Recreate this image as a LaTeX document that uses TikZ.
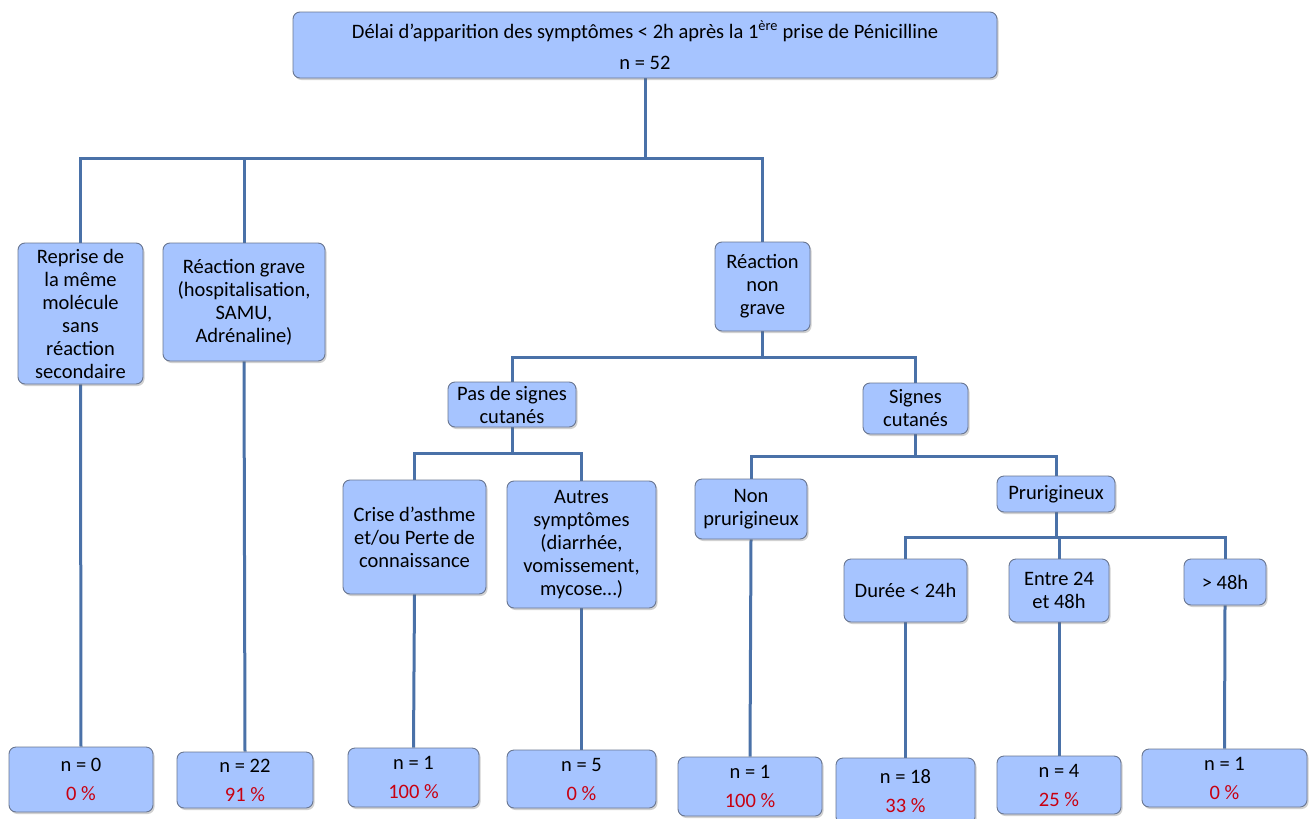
\documentclass[tikz,border=0pt]{standalone}
\usepackage{fontspec}
\setmainfont{Carlito}
\usepackage{tikz}
\usetikzlibrary{shadows}
\usetikzlibrary{backgrounds}

\definecolor{boxfill}{RGB}{166,196,255}
\definecolor{boxline}{RGB}{105,118,145}
\definecolor{linkblue}{RGB}{74,113,168}
\definecolor{pctred}{RGB}{200,0,16}
\newcommand{\pcent}[1]{{\color{pctred}#1}}

\tikzset{
  box/.style={draw=boxline, line width=0.9pt, fill=boxfill, rounded corners=7pt,
    inner sep=0pt, align=center, font=\fontsize{20.5}{23}\selectfont,
    drop shadow={shadow xshift=1.5pt, shadow yshift=-2pt, opacity=0.3, fill=black!60}},
  link/.style={draw=linkblue, line width=3pt}
}

\begin{document}
\begin{tikzpicture}[x=1pt, y=-1pt]
                \useasboundingbox (0,0) rectangle (1312,819);
                % top of the tree
                \node[box, minimum width=704, minimum height=66] (top) at (645,45)
                    {Délai d’apparition des symptômes < 2h après la 1\textsuperscript{ère} prise de Pénicilline\\[8pt] n = 52};
                % first level
                \node[box, minimum width=125, minimum height=141] (repr) at (80.5,313.5)
                    {Reprise de\\la même\\molécule\\sans\\réaction\\secondaire};
                \node[box, minimum width=162, minimum height=118] (grave) at (244,302)
                    {Réaction grave\\(hospitalisation,\\SAMU,\\Adrénaline)};
                \node[box, minimum width=95, minimum height=89] (nongrave) at (762.5,286.5)
                    {Réaction\\non\\grave};
                % second level
                \node[box, minimum width=128, minimum height=45] (pas) at (512,404.5)
                    {Pas de signes\\cutanés};
                \node[box, minimum width=105, minimum height=51] (signes) at (915.5,408.5)
                    {Signes\\cutanés};
                % third level
                \node[box, minimum width=143, minimum height=114] (crise) at (414.5,537)
                    {Crise d’asthme\\et/ou Perte de\\connaissance};
                \node[box, minimum width=149, minimum height=127] (autres) at (581.5,544.5)
                    {Autres\\symptômes\\(diarrhée,\\vomissement,\\mycose…)};
                \node[box, minimum width=112, minimum height=60] (nonprur) at (751,509)
                    {Non\\prurigineux};
                \node[box, minimum width=118, minimum height=36] (prur) at (1056,494)
                    {Prurigineux};
                % duration
                \node[box, minimum width=123, minimum height=63] (duree) at (905.5,590.5)
                    {Durée < 24h};
                \node[box, minimum width=100, minimum height=63] (entre) at (1059,590.5)
                    {Entre 24\\et 48h};
                \node[box, minimum width=82, minimum height=46] (plus) at (1225,582)
                    {> 48h};
                % counts
                \node[box, minimum width=144, minimum height=65] (n1) at (81,779.5)
                    {n = 0\\[6pt]\pcent{0 \%}};
                \node[box, minimum width=136, minimum height=56] (n2) at (245,780)
                    {n = 22\\[6pt]\pcent{91 \%}};
                \node[box, minimum width=131, minimum height=59] (n3) at (413.5,777.5)
                    {n = 1\\[6pt]\pcent{100 \%}};
                \node[box, minimum width=149, minimum height=58] (n4) at (581.5,779)
                    {n = 5\\[6pt]\pcent{0 \%}};
                \node[box, minimum width=144, minimum height=59] (n5) at (750,786.5)
                    {n = 1\\[6pt]\pcent{100 \%}};
                \node[box, minimum width=139, minimum height=66] (n6) at (905.5,791)
                    {n = 18\\[6pt]\pcent{33 \%}};
                \node[box, minimum width=124, minimum height=58] (n7) at (1059,785)
                    {n = 4\\[6pt]\pcent{25 \%}};
                \node[box, minimum width=165, minimum height=58] (n8) at (1224.5,778)
                    {n = 1\\[6pt]\pcent{0 \%}};
                % connectors
                \begin{scope}[on background layer]
                \foreach \c in {repr,grave,nongrave}
                    \draw[link] (top.south) -- ++(0,80) -| (\c.north);
                \foreach \c in {pas,signes}
                    \draw[link] (nongrave.south) -- ++(0,26) -| (\c.north);
                \foreach \c in {crise,autres}
                    \draw[link] (pas.south) -- ++(0,26) -| (\c.north);
                \foreach \c in {nonprur,prur}
                    \draw[link] (signes.south) -- ++(0,22) -| (\c.north);
                \foreach \c in {duree,entre,plus}
                    \draw[link] (prur.south) -- ++(0,25) -| (\c.north);
                \foreach \a/\b in {repr/n1,grave/n2,crise/n3,autres/n4,nonprur/n5,duree/n6,entre/n7,plus/n8}
                    \draw[link] (\a.south) -- (\b.north);
                \end{scope}
            \end{tikzpicture}
\end{document}
